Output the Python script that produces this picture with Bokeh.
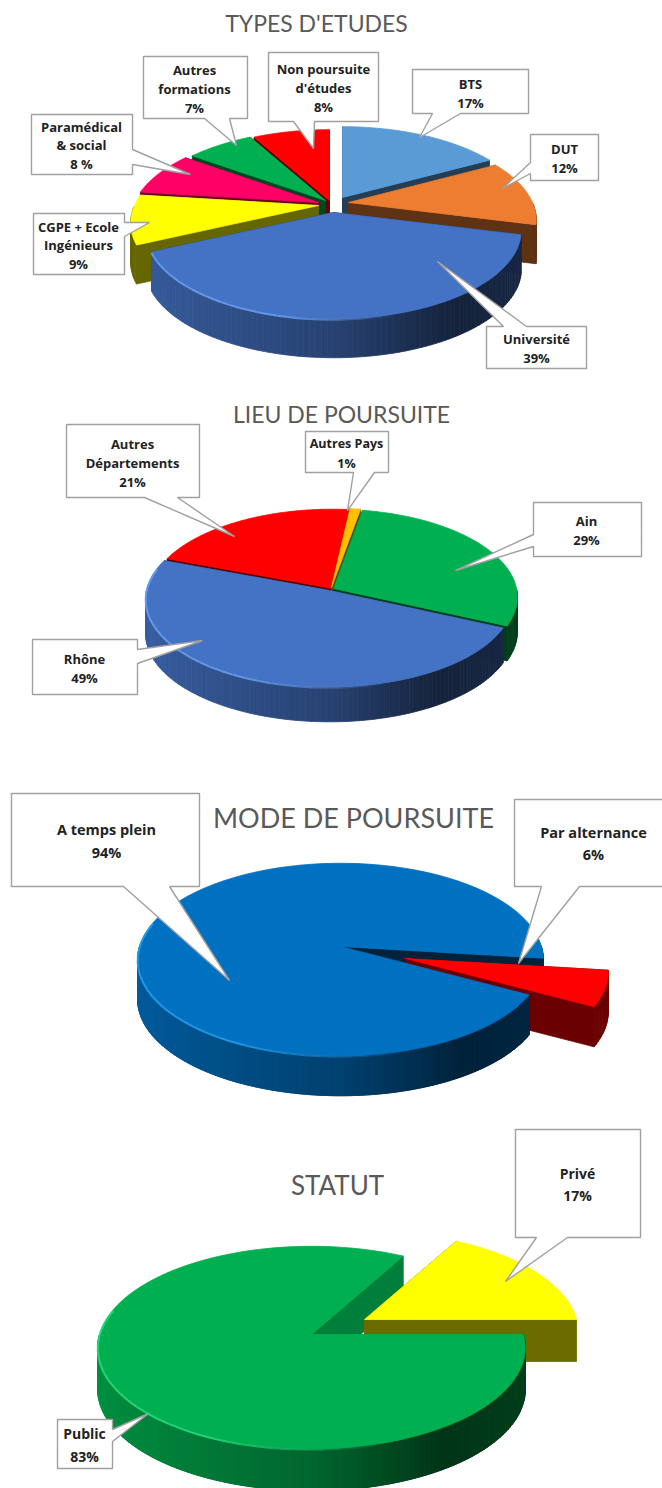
import numpy as np
from bokeh.plotting import figure
from bokeh.models import Range1d
from bokeh.core.properties import value
from bokeh.embed import file_html
from bokeh.resources import INLINE

# ---------- data ----------
types_labels = ["BTS", "DUT", "Université", "CGPE + Ecole\nIngénieurs", "Paramédical\n& social",
                "Autres\nformations", "Non poursuite\nd'études"]
types_pct_text = ["17%", "12%", "39%", "9%", "8 %", "7%", "8%"]
types_values = [17, 12, 39, 9, 8, 7, 8]
types_colors = ["#5B9BD5", "#ED7D31", "#4472C4", "#FFFF00", "#FF0066", "#00B050", "#FF0000"]

lieu_labels = ["Ain", "Rhône", "Autres\nDépartements", "Autres Pays"]
lieu_pct_text = ["29%", "49%", "21%", "1%"]
lieu_values = [29, 49, 21, 1]
lieu_colors = ["#00B050", "#4472C4", "#FF0000", "#FFC000"]

mode_labels = ["A temps plein", "Par alternance"]
mode_pct_text = ["94%", "6%"]
mode_values = [94, 6]
mode_colors = ["#0070C0", "#FF0000"]

statut_labels = ["Public", "Privé"]
statut_pct_text = ["83%", "17%"]
statut_values = [83, 17]
statut_colors = ["#00B050", "#FFFF00"]

# ---------- layout (reference-pixel space) ----------
W, H = 662, 1488
charts = [
    dict(title="TYPES D'ETUDES", tx=316, ty=22, tsize=23, values=types_values, colors=types_colors,
         start=0, R=184, Rv=85, k=0.2, D=39, side=[0.4] * 7,
         apex=[(342, 197), (348, 202), (333, 212), (318, 205), (318, 202), (325, 200), (329, 200)],
         passes=[(6, "all"), (5, "all"), (4, "all"), (0, "all"), (3, "all"), (1, "all"), (2, "all")], big=2),
    dict(title="LIEU DE POURSUITE", tx=341, ty=413, tsize=23, values=lieu_values, colors=lieu_colors,
         start=10, R=183, Rv=87, k=0.097, D=35, side=[0.35] * 4,
         apex=[(333, 588), (329, 590), (332, 588), (331, 587)],
         passes=[(2, "all"), (3, "all"), (0, "all"), (1, "all")], big=1),
    dict(title="MODE DE POURSUITE", tx=353, ty=817, tsize=27, values=mode_values, colors=mode_colors,
         start=118.6, R=201, Rv=94.5, k=0.135, D=40, side=[0.3, 0.42],
         apex=[(340, 946), (405, 958)],
         passes=[(0, "walls"), (1, "all"), (0, "front")], big=0),
    dict(title="STATUT", tx=337, ty=1184, tsize=26, values=statut_values, colors=statut_colors,
         start=90, R=212, Rv=99.6, k=0.129, D=42, side=[0.72, 0.42],
         apex=[(311, 1334), (364, 1319)],
         passes=[(0, "walls"), (1, "all"), (0, "front")], big=0),
]

# callout: label, percent, box (x0, y0, x1, y1), side, pointer base a, b, tip, text centre x,
#          first line y, line step, font size
callouts = [
    (types_labels[0], types_pct_text[0], (412, 69, 528, 113), "b", 432, 460, (419, 137), 470, 83, 19, 13),
    (types_labels[1], types_pct_text[1], (530, 134, 598, 180), "l", 162, 173, (502, 188), 564, 148, 19, 13),
    (types_labels[2], types_pct_text[2], (486, 326, 586, 368), "t", 503, 526, (437, 261), 536, 338, 19, 13),
    (types_labels[3], types_pct_text[3], (33, 213, 124, 274), "r", 222, 236, (149, 222), 78, 226, 18.5, 13),
    (types_labels[4], types_pct_text[4], (31, 114, 132, 174), "r", 149, 164, (190, 174), 81, 126, 18.5, 13),
    (types_labels[5], types_pct_text[5], (143, 56, 247, 118), "b", 204, 229, (236, 145), 194, 69, 19, 13),
    (types_labels[6], types_pct_text[6], (268, 52, 378, 121), "b", 293, 314, (313, 148), 323, 68, 19, 13),
    (lieu_labels[2], lieu_pct_text[2], (66, 424, 199, 497), "b", 144, 177, (234, 536), 132, 443, 19, 13),
    (lieu_labels[3], lieu_pct_text[3], (305, 431, 388, 472), "b", 353, 374, (347, 510), 346, 443, 20, 12.5),
    (lieu_labels[0], lieu_pct_text[0], (533, 502, 641, 556), "l", 534, 546, (455, 570), 586, 520, 19, 13),
    (lieu_labels[1], lieu_pct_text[1], (32, 639, 137, 694), "r", 649, 663, (202, 640), 84, 658, 19, 13),
    (mode_labels[0], mode_pct_text[0], (11, 793, 199, 886), "b", 123, 169, (229, 980), 106, 829, 23, 14.5),
    (mode_labels[1], mode_pct_text[1], (514, 799, 668, 886), "b", 541, 579, (518, 963), 593, 832, 22, 14.5),
    (statut_labels[1], statut_pct_text[1], (515, 1129, 640, 1237), "b", 536, 567, (505, 1281), 577, 1173, 22, 14),
    (statut_labels[0], statut_pct_text[0], (57, 1419, 112, 1468), "r", 1429, 1441, (148, 1413), 84, 1433, 23, 14),
]

p = figure(width=W, height=H, x_range=Range1d(0, W), y_range=Range1d(H, 0),
           output_backend="svg", toolbar_location=None, x_axis_location=None, y_axis_location=None,
           min_border=0, outline_line_color=None, background_fill_color="white")
p.grid.visible = False


def rgb(hexc):
    return np.array([int(hexc[i:i + 2], 16) for i in (1, 3, 5)], dtype=float)


def tohex(c):
    c = np.clip(np.round(c), 0, 255).astype(int)
    return "#%02x%02x%02x" % tuple(c)


def rim(c, apex, deg):
    t = np.radians(np.asarray(deg, dtype=float))
    X, Y = np.sin(t), np.cos(t)
    w = 1 + c["k"] * Y
    return apex[0] + c["R"] * X / w, apex[1] - c["Rv"] * Y / w


def wall_factor(X):
    # bright on the left, darkest on the right third, slightly lifting at the edge
    return np.interp(X, [-1, 0, 0.55, 1], [0.82, 0.58, 0.3, 0.36])


px, py, pc = [], [], []


def add(xs, ys, col):
    px.append(list(xs)); py.append(list(ys)); pc.append(col)


def radial(c, a, deg, col):
    ex, ey = rim(c, a, deg)
    D = c["D"]
    add([a[0], float(ex), float(ex), a[0]], [a[1], float(ey), float(ey) + D, a[1] + D], col)


def outer(c, a, t0, t1, base, shaded, flat):
    # only the part of the rim that faces the viewer has a wall
    if t1 <= t0:
        return
    n = max(2, int((t1 - t0) / 1.5))
    ts = np.linspace(t0, t1, n + 1)
    xs, ys = rim(c, a, ts)
    for i in range(n):
        mid = (ts[i] + ts[i + 1]) / 2
        if not 90 <= mid % 360 <= 270:
            continue
        X = np.sin(np.radians(mid))
        col = tohex(base * wall_factor(X)) if shaded else flat
        add([xs[i], xs[i + 1], xs[i + 1], xs[i]], [ys[i], ys[i + 1], ys[i + 1] + c["D"], ys[i] + c["D"]], col)


hx, hy, hc, ha = [], [], [], []
for c in charts:
    pct = np.array(c["values"], dtype=float)
    edges = c["start"] + np.concatenate([[0], np.cumsum(pct)]) * 3.6
    for idx, part in c["passes"]:
        t0, t1 = edges[idx], edges[idx + 1]
        a = c["apex"][idx]
        base = rgb(c["colors"][idx])
        flat = tohex(base * c["side"][idx])
        shaded = idx == c["big"]
        if part in ("all", "walls"):
            radial(c, a, t0, flat)
            radial(c, a, t1, flat)
            outer(c, a, t0, t1, base, shaded, flat)
        if part == "front":
            outer(c, a, t0, min(t1, 300), base, shaded, flat)
        if part in ("all", "front"):
            ts = np.linspace(t0, t1, 90)
            xs, ys = rim(c, a, ts)
            add([a[0]] + list(xs), [a[1]] + list(ys), c["colors"][idx])
    # light rim on the front-left edge of the largest slice, fading towards the front
    b = c["big"]
    ts = np.linspace(max(edges[b], 165), min(edges[b + 1], 285), 31)
    xs, ys = rim(c, c["apex"][b], ts)
    col = tohex(rgb(c["colors"][b]) + np.array([35, 45, 45]))
    for i in range(30):
        hx.append([xs[i], xs[i + 1]]); hy.append([ys[i] + 1, ys[i + 1] + 1])
        hc.append(col); ha.append(float(min(0.9, (i + 1) / 12)))

p.patches(px, py, fill_color=pc, line_color=pc, line_width=0.8)
p.multi_line(hx, hy, line_color=hc, line_alpha=ha, line_width=2)

# callouts
bx, by = [], []
tx, ty, tt, ts_ = [], [], [], []
for lab, pc_txt, box, side, a, b, tip, cx, y0, step, fs in callouts:
    x0, y0b, x1, y1 = box
    if side == "b":
        xs = [x0, x1, x1, b, tip[0], a, x0]; ys = [y0b, y0b, y1, y1, tip[1], y1, y1]
    elif side == "t":
        xs = [x0, a, tip[0], b, x1, x1, x0]; ys = [y0b, y0b, tip[1], y0b, y0b, y1, y1]
    elif side == "l":
        xs = [x0, x1, x1, x0, x0, tip[0], x0]; ys = [y0b, y0b, y1, y1, b, tip[1], a]
    else:
        xs = [x0, x1, x1, tip[0], x1, x1, x0]; ys = [y0b, y0b, a, tip[1], b, y1, y1]
    bx.append(xs); by.append(ys)
    for i, line in enumerate(lab.split("\n") + [pc_txt]):
        tx.append(cx); ty.append(y0 + i * step); tt.append(line); ts_.append(f"{fs}px")

p.patches(bx, by, fill_color="white", line_color="#a0a0a0", line_width=1.4)
p.text(tx, ty, text=tt, text_font=value("Open Sans"), text_font_style="bold", text_font_size=ts_,
       text_color="#222222", text_align="center", text_baseline="middle")

for c in charts:
    p.text([c["tx"]], [c["ty"]], text=[c["title"]], text_font=value("Lato"),
           text_font_size=f'{c["tsize"]}px', text_color="#595959", text_align="center", text_baseline="middle")

open("out.html", "w").write(file_html(p, INLINE))
